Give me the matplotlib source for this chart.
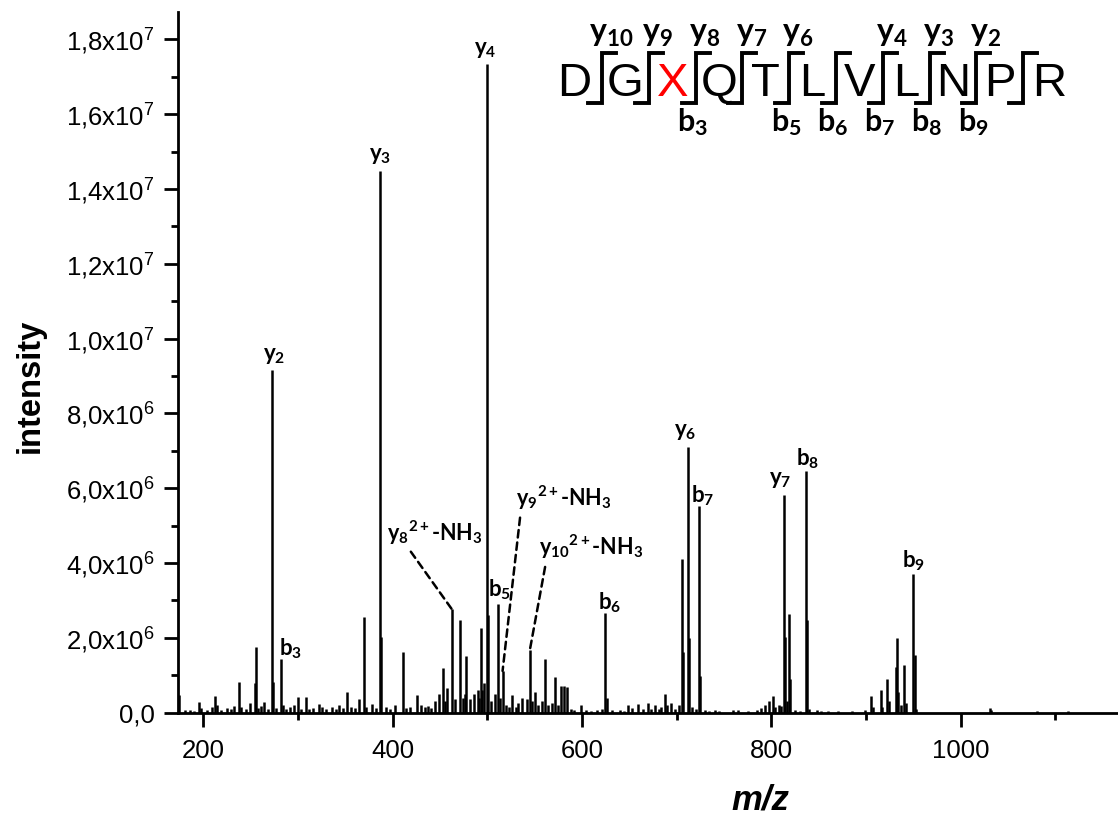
import numpy as np
import matplotlib
matplotlib.use('Agg')
import matplotlib.pyplot as plt
from matplotlib.ticker import MultipleLocator, FuncFormatter
from matplotlib.lines import Line2D

plt.rcParams['font.family'] = ['Liberation Sans', 'DejaVu Sans']
plt.rcParams['mathtext.fontset'] = 'custom'
plt.rcParams['mathtext.rm'] = 'Liberation Sans'
plt.rcParams['mathtext.it'] = 'Liberation Sans:italic'
plt.rcParams['mathtext.bf'] = 'Lato:bold'
plt.rcParams['mathtext.sf'] = 'Liberation Sans'

# ---------------- data (m/z, intensity in units of 1e6) ----------------
mz = [174.7, 181, 186, 190, 195.8, 198, 204, 209, 212.4, 215, 219, 225, 229, 233,
      237.7, 240, 245, 250, 254.3, 255.8, 258, 261, 264.4, 268, 272.5, 274, 277,
      282.4, 284, 288, 292, 296, 299.7, 303, 308.5, 312, 316, 322, 326, 330, 336,
      340, 344, 348, 352, 356, 360, 365, 369.7, 372, 378.5, 383, 386.6, 388, 393,
      397, 403, 410.6, 414, 418, 425.4, 430, 434, 437, 441, 445, 449, 452.8, 455,
      458, 462.4, 466, 471.1, 474, 476.5, 478.1, 482, 486, 490, 491, 492.9, 495,
      497, 499.3, 501, 504, 508, 511.2, 514, 516.2, 520, 523, 526, 530, 533, 536.3,
      542.2, 545, 547, 550, 554, 558, 561.1, 564, 568, 571.4, 575, 578, 581, 584.6,
      588, 592, 598.9, 604, 610, 616, 621, 624.5, 626, 632, 640, 644, 648.8, 653,
      659, 664, 670, 673, 677, 681, 684, 687.6, 690, 694, 698, 702, 705.2, 707,
      711.6, 713, 716, 720, 723.8, 725, 730, 734, 740, 745, 760, 765, 775, 785, 789,
      793, 797.3, 801.7, 804, 808, 810, 812.9, 814, 816, 818.5, 820, 825, 830,
      836.2, 837.6, 840, 848, 852, 860, 870, 885, 898.7, 905, 907, 915.4, 917,
      922.4, 924, 931.3, 932.7, 934, 937, 940.2, 942, 949.8, 951.5, 953, 1030.7,
      1032, 1080, 1113]
intensity = [0.47, 0.08, 0.06, 0.05, 0.29, 0.12, 0.06, 0.15, 0.45, 0.2, 0.08, 0.12, 0.1, 0.18,
             0.81, 0.15, 0.1, 0.25, 0.78, 1.76, 0.12, 0.18, 0.27, 0.1, 9.17, 0.82, 0.12,
             1.44, 0.2, 0.1, 0.15, 0.2, 0.42, 0.1, 0.41, 0.1, 0.12, 0.22, 0.15, 0.1, 0.14,
             0.1, 0.2, 0.12, 0.56, 0.15, 0.12, 0.35, 2.55, 0.15, 0.22, 0.12, 14.47, 2.01, 0.15,
             0.1, 0.2, 1.61, 0.12, 0.15, 0.47, 0.2, 0.15, 0.18, 0.12, 0.3, 0.5, 1.18, 0.3,
             0.66, 2.77, 0.35, 2.46, 0.4, 0.5, 1.51, 0.35, 0.5, 0.6, 0.4, 2.25, 0.6,
             0.8, 17.33, 2.61, 0.3, 0.5, 2.9, 0.4, 1.11, 0.2, 0.15, 0.47, 0.15, 0.25, 0.4,
             0.36, 1.67, 0.3, 0.56, 0.2, 0.3, 1.43, 0.2, 0.25, 0.96, 0.2, 0.72, 0.70, 0.68,
             0.1, 0.08, 0.19, 0.06, 0.05, 0.06, 0.1, 2.65, 0.4, 0.06, 0.08, 0.05, 0.19, 0.12,
             0.22, 0.1, 0.25, 0.1, 0.2, 0.1, 0.15, 0.49, 0.2, 0.25, 0.1, 0.2, 4.1, 1.63,
             7.09, 1.98, 0.15, 0.1, 5.53, 0.97, 0.06, 0.05, 0.08, 0.04, 0.08, 0.06, 0.05, 0.08, 0.12,
             0.2, 0.32, 0.45, 0.15, 0.2, 0.18, 5.82, 2.01, 0.3, 2.63, 0.9, 0.06, 0.05,
             6.47, 2.47, 0.1, 0.06, 0.05, 0.05, 0.03, 0.04, 0.08, 0.45, 0.15, 0.6, 0.15,
             0.9, 0.3, 1.22, 2.0, 0.55, 0.2, 1.26, 0.25, 3.7, 1.54, 0.1, 0.13,
             0.08, 0.05, 0.05]

# annotated peaks
ann_mz = [272.5, 282.4, 386.6, 499.3, 511.2, 624.5, 711.6, 723.8, 812.9, 836.2, 949.8]
ann_ion = ['y', 'b', 'y', 'y', 'b', 'b', 'y', 'b', 'y', 'b', 'b']
ann_num = ['2', '3', '3', '4', '5', '6', '6', '7', '7', '8', '9']

# NH3-loss doubly charged ions
nh3_mz = [462.4, 516.2, 545]
nh3_num = ['8', '9', '10']

# peptide sequence and fragment ions
sequence = ['D', 'G', 'X', 'Q', 'T', 'L', 'V', 'L', 'N', 'P', 'R']
y_ions = [10, 9, 8, 7, 6, 4, 3, 2]
b_ions = [3, 5, 6, 7, 8, 9]

x_ticks_major = 200
y_ticks_major = 2e6

# ---------------- figure ----------------
W, H = 1118, 818
fig = plt.figure(figsize=(W / 100, H / 100), dpi=100)
ax = fig.add_axes([178 / W, 1 - 712.5 / H, (W - 178) / W, (712.5 - 12) / H])

mz_a = np.array(mz)
int_a = np.array(intensity) * 1e6
ax.vlines(mz_a, 0, int_a, color='black', lw=1.8)

ax.set_xlim(173.5, 1166)
ax.set_ylim(0, 1.873e7)

for s in ['top', 'right']:
    ax.spines[s].set_visible(False)
for s in ['left', 'bottom']:
    ax.spines[s].set_linewidth(2)

ax.xaxis.set_major_locator(MultipleLocator(x_ticks_major))
ax.xaxis.set_minor_locator(MultipleLocator(x_ticks_major / 2))
ax.yaxis.set_major_locator(MultipleLocator(y_ticks_major))
ax.yaxis.set_minor_locator(MultipleLocator(y_ticks_major / 2))


def yfmt(v, pos):
    if v <= 1:
        return '0,0' if abs(v) < 1 else ''
    e = int(np.floor(np.log10(v) + 1e-9))
    m = v / 10 ** e
    return ('%.1f' % m).replace('.', ',') + 'x10$^{%d}$' % e


ax.yaxis.set_major_formatter(FuncFormatter(yfmt))
ax.tick_params(axis='both', which='major', length=10, width=2, labelsize=18.5, direction='out')
ax.tick_params(axis='y', which='major', pad=7)
ax.tick_params(axis='x', which='major', pad=9)
ax.tick_params(axis='both', which='minor', length=5, width=2, direction='out')

ax.set_xlabel('m/z', fontsize=25, fontweight='bold', fontstyle='italic')
ax.xaxis.label.set_va('center')
ax.xaxis.set_label_coords(0.619, -0.125)
ax.set_ylabel('intensity', fontsize=23.5, fontweight='bold')
ax.yaxis.label.set_va('center')
ax.yaxis.set_label_coords(-0.157, 0.466)

# peak labels
offsets = {('y', '2'): (1.4, 10), ('b', '3'): (6.5, 7.5), ('y', '3'): (0, 11.3),
           ('y', '4'): (-1, 11), ('b', '5'): (1.5, 10), ('b', '6'): (3.6, 7.5),
           ('y', '6'): (-2, 11.7), ('b', '7'): (2.7, 7), ('y', '7'): (-2.4, 11),
           ('b', '8'): (1.7, 8.4), ('b', '9'): (0, 10)}
for m, ion, n in zip(ann_mz, ann_ion, ann_num):
    i = int(np.argmin(np.abs(mz_a - m)))
    ax.annotate(r'$\mathbf{%s_{%s}}$' % (ion, n), xy=(mz_a[i], int_a[i]),
                xytext=offsets[(ion, n)], textcoords='offset points',
                ha='center', va='center', fontsize=16)

# NH3-loss labels with dashed leaders
nh3_off = {'8': ((-12, 55), 0.21), '9': ((44, 124.6), 0.05), '10': ((44, 74), 0.07)}
for m, n in zip(nh3_mz, nh3_num):
    i = int(np.argmin(np.abs(mz_a - m)))
    off, rp = nh3_off[n]
    ax.annotate(r'$\mathbf{y_{%s}}$$^{\mathbf{2+}}$-NH$_\mathbf{3}$' % n, xy=(mz_a[i], int_a[i]),
                xytext=off, textcoords='offset points', ha='center', va='center',
                fontsize=15.5, fontfamily='Lato', fontweight='bold',
                arrowprops=dict(arrowstyle='-', linestyle=(0, (3, 2)), lw=1.8,
                                color='black', relpos=(rp, 0), shrinkA=2, shrinkB=0))

# sequence annotation (figure pixel coordinates)
def fx(x):
    return x / W


def fy(y):
    return 1 - y / H


sep0, dsep = 602, 46.8
nsep = len(sequence) - 1
seps = [sep0 + k * dsep for k in range(nsep)]
centers = [seps[0] - 28] + [(seps[k] + seps[k + 1]) / 2 for k in range(nsep - 1)] + [seps[-1] + 26]
for c, r in zip(centers, sequence):
    fig.text(fx(c), fy(96), r, ha='center', va='baseline', fontsize=34,
             color='#ff0000' if r == 'X' else 'black')

hook = 14
for s in seps:
    fig.add_artist(Line2D([fx(s + hook), fx(s), fx(s), fx(s - hook)],
                          [fy(53), fy(53), fy(103), fy(103)],
                          color='black', lw=2.8, solid_joinstyle='miter'))

for yi in y_ions:
    k = len(sequence) - yi  # separator index (1-based)
    fig.text(fx(seps[k - 1] + 9), fy(42), r'$\mathbf{y_{%d}}$' % yi,
             ha='center', va='baseline', fontsize=23)
for bi in b_ions:
    fig.text(fx(seps[bi - 1] - 3), fy(131), r'$\mathbf{b_{%d}}$' % bi,
             ha='center', va='baseline', fontsize=22)

fig.savefig('out.png', dpi=100, facecolor='white')
